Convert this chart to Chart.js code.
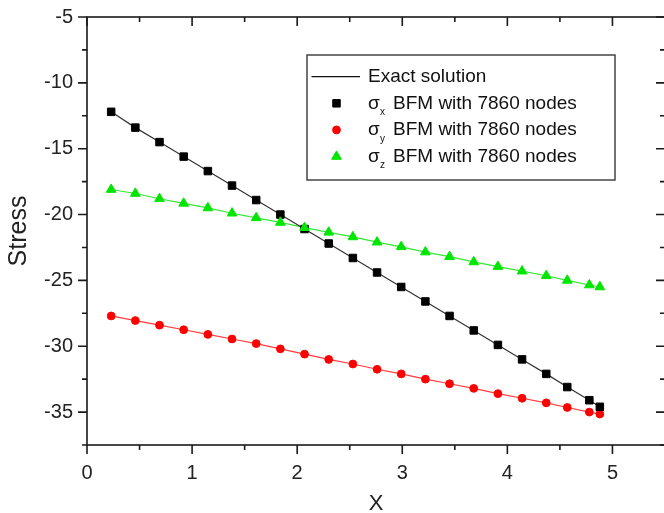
<!DOCTYPE html>
<html>
<head>
<meta charset="utf-8">
<script src="https://cdn.jsdelivr.net/npm/chart.js@4/dist/chart.umd.min.js"></script>
<style>
  html, body { margin: 0; padding: 0; background: #fff; overflow: hidden; }
  canvas { display: block; }
</style>
</head>
<body>
<canvas id="stress" width="672" height="513"></canvas>
<script>
// Node positions along X and the three stress components computed by BFM
const xNodes = [0.23, 0.46, 0.69, 0.92, 1.15, 1.38, 1.61, 1.84, 2.07, 2.30, 2.53,
                2.76, 2.99, 3.22, 3.45, 3.68, 3.91, 4.14, 4.37, 4.57, 4.78, 4.88];
const sigmaX = [-12.2, -13.4, -14.5, -15.6, -16.7, -17.8, -18.9, -20.0, -21.1, -22.2, -23.3,
                -24.4, -25.5, -26.6, -27.7, -28.8, -29.9, -31.0, -32.1, -33.1, -34.1, -34.6];
const sigmaY = [-27.7, -28.05, -28.4, -28.75, -29.1, -29.45, -29.8, -30.2, -30.6, -31.0, -31.35,
                -31.75, -32.1, -32.5, -32.85, -33.2, -33.6, -33.95, -34.3, -34.65, -35.0, -35.15];
const sigmaZ = [-18.1, -18.4, -18.8, -19.15, -19.5, -19.9, -20.25, -20.6, -21.0, -21.35, -21.7,
                -22.1, -22.45, -22.85, -23.2, -23.6, -23.95, -24.3, -24.65, -25.0, -25.35, -25.5];

// Axis ranges and tick spacing
const xRange = [0, 5.5];
const xStep = 0.5;
const yRange = [-37.5, -5];
const yStep = 2.5;
const yLabelEvery = 5;

const exactLabel = 'Exact solution';
const nodeText = 'BFM with 7860 nodes';

const FONT = "'Liberation Sans', Arial, sans-serif";
const AXIS_COLOR = '#1a1a1a';
const MAJOR = 9, MINOR = 5;

const pts = ys => xNodes.map((x, i) => ({ x, y: ys[i] }));

function exactLine(ys, color) {
  return {
    label: exactLabel, exact: true, data: pts(ys), showLine: true,
    borderColor: color, borderWidth: 1.2, pointRadius: 0, pointHoverRadius: 0,
    order: 3
  };
}
function nodes(ys, sub, color, style, radius, order) {
  return {
    label: 'σ' + sub + ' ' + nodeText, sub, data: pts(ys), showLine: false,
    pointStyle: style, pointRadius: radius, pointBorderWidth: 1,
    backgroundColor: color, borderColor: color, order
  };
}

// Frame: all four sides with major/minor ticks (outward on left/bottom, inward on top/right)
const frameTicks = {
  id: 'frameTicks',
  afterDatasetsDraw(chart) {
    const { ctx, chartArea: a, scales: { x, y } } = chart;
    ctx.save();
    ctx.strokeStyle = AXIS_COLOR;
    ctx.lineWidth = 1.6;
    ctx.beginPath();
    x.ticks.forEach(t => {
      const px = x.getPixelForValue(t.value);
      const len = Math.abs(t.value - Math.round(t.value)) < 1e-9 ? MAJOR : MINOR;
      ctx.moveTo(px, a.bottom); ctx.lineTo(px, a.bottom + len);
      ctx.moveTo(px, a.top); ctx.lineTo(px, a.top + len);
    });
    y.ticks.forEach(t => {
      const py = y.getPixelForValue(t.value);
      const len = Math.abs(t.value % yLabelEvery) < 1e-9 ? MAJOR : MINOR;
      ctx.moveTo(a.left, py); ctx.lineTo(a.left - len, py);
      ctx.moveTo(a.right, py); ctx.lineTo(a.right - len, py);
    });
    ctx.stroke();
    ctx.strokeRect(a.left, a.top, a.right - a.left, a.bottom - a.top);
    ctx.restore();
  }
};

// Boxed legend with subscripted sigma labels
const boxLegend = {
  id: 'boxLegend',
  afterDraw(chart) {
    const { ctx, chartArea: a } = chart;
    const bx = a.left + 220, by = a.top + 38, bw = 308, bh = 125;
    ctx.save();
    ctx.fillStyle = '#fff';
    ctx.fillRect(bx, by, bw, bh);
    ctx.strokeStyle = '#444';
    ctx.lineWidth = 1.5;
    ctx.strokeRect(bx, by, bw, bh);

    const rows = [];
    chart.data.datasets.forEach(ds => {
      if (ds.exact) {
        if (!rows.some(r => r.exact)) rows.push(ds);
      }
    });
    chart.data.datasets.forEach(ds => { if (!ds.exact) rows.push(ds); });
    // keep σx, σy, σz order
    const ordered = [rows[0]].concat(rows.slice(1).sort((p, q) => p.sub.localeCompare(q.sub)));

    const markX = bx + 29.5, textX = bx + 61;
    ctx.textBaseline = 'middle';
    ctx.textAlign = 'left';
    ordered.forEach((ds, i) => {
      const cy = by + 21.7 + i * 26.6;
      if (ds.exact) {
        ctx.strokeStyle = '#111';
        ctx.lineWidth = 1.2;
        ctx.beginPath();
        ctx.moveTo(bx + 4.5, cy); ctx.lineTo(bx + 53, cy);
        ctx.stroke();
        ctx.fillStyle = '#111';
        ctx.font = '19px ' + FONT;
        ctx.fillText(ds.label, textX, cy);
      } else {
        ctx.fillStyle = ds.backgroundColor;
        ctx.strokeStyle = ds.borderColor;
        ctx.lineWidth = 1;
        const opts = { pointStyle: ds.pointStyle, radius: ds.pointRadius, rotation: 0, borderWidth: 1 };
        Chart.helpers.drawPoint(ctx, opts, markX, cy);
        ctx.fillStyle = '#111';
        ctx.font = '19px ' + FONT;
        ctx.fillText('σ', textX, cy);
        ctx.font = '10px ' + FONT;
        ctx.fillText(ds.sub, textX + 12, cy + 9);
        ctx.font = '19px ' + FONT;
        ctx.fillText(nodeText, textX + 25, cy);
      }
    });
    ctx.restore();
  }
};

const tickFont = { family: FONT, size: 20 };

new Chart(document.getElementById('stress'), {
  type: 'scatter',
  data: {
    datasets: [
      exactLine(sigmaX, '#333333'),
      exactLine(sigmaY, '#ff3b3b'),
      exactLine(sigmaZ, '#33e833'),
      nodes(sigmaX, 'x', '#000000', 'rect', 5.3, 2),
      nodes(sigmaY, 'y', '#ff0000', 'circle', 3.9, 2),
      nodes(sigmaZ, 'z', '#00e600', 'triangle', 5.6, 1)
    ]
  },
  options: {
    responsive: false,
    animation: false,
    events: [],
    layout: { padding: { top: 15, right: 5, left: 0, bottom: 0 } },
    plugins: { legend: { display: false }, tooltip: { enabled: false } },
    scales: {
      x: {
        type: 'linear', min: xRange[0], max: xRange[1],
        ticks: {
          stepSize: xStep, autoSkip: false, maxRotation: 0, padding: 7,
          color: '#222', font: tickFont,
          callback: v => Math.abs(v - Math.round(v)) < 1e-9 ? String(Math.round(v)) : ''
        },
        grid: { display: true, drawOnChartArea: false, drawTicks: true, tickLength: MAJOR, color: 'rgba(0,0,0,0)' },
        border: { display: false },
        title: { display: true, text: 'X', color: '#222', font: { family: FONT, size: 22, lineHeight: 1 }, padding: { top: 0, bottom: -2 } },
        afterFit: s => { s.height = 68; }
      },
      y: {
        type: 'linear', min: yRange[0], max: yRange[1],
        ticks: {
          stepSize: yStep, autoSkip: false, padding: 5,
          color: '#222', font: tickFont,
          callback: v => Math.abs(v % yLabelEvery) < 1e-9 ? String(v) : ''
        },
        grid: { display: true, drawOnChartArea: false, drawTicks: true, tickLength: MAJOR, color: 'rgba(0,0,0,0)' },
        border: { display: false },
        title: { display: true, text: 'Stress', color: '#222', font: { family: FONT, size: 25, lineHeight: 1 }, padding: { top: 7, bottom: 0 } },
        afterFit: s => { s.width = 87; }
      }
    }
  },
  plugins: [frameTicks, boxLegend]
});
</script>
</body>
</html>
